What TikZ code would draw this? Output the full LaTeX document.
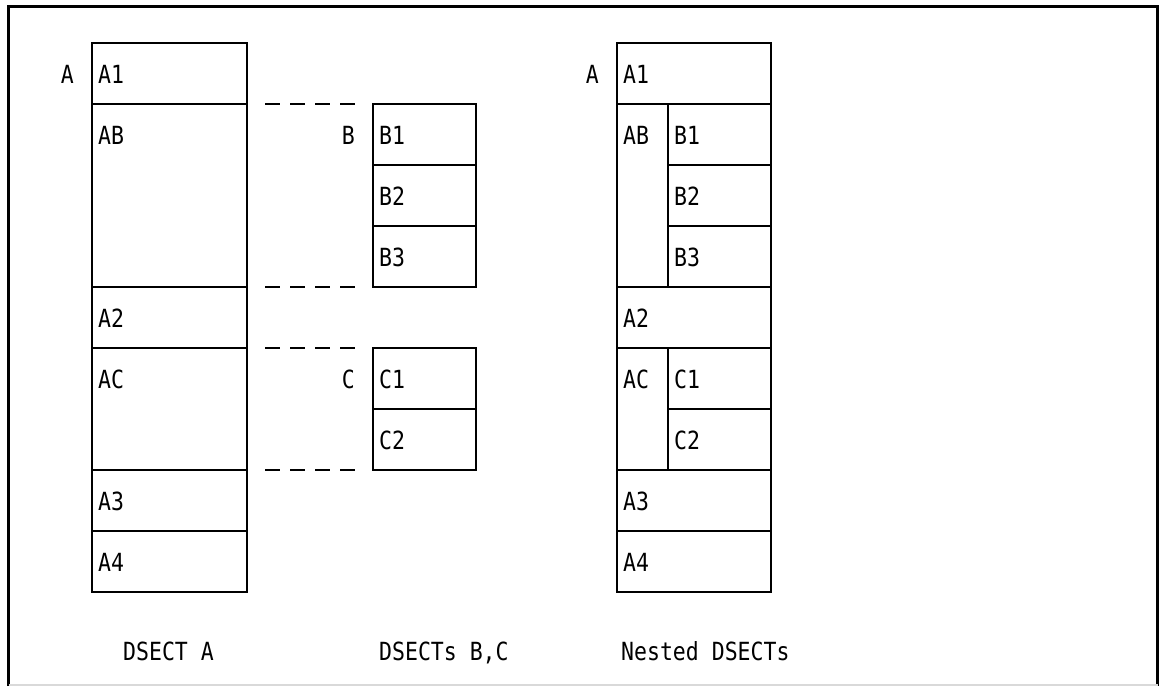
\documentclass[tikz,border=0pt]{standalone}
\usepackage{fontspec}
\setmonofont{DejaVu Sans Mono}[FakeStretch=0.86]
\usepackage{tikz}
\usetikzlibrary{positioning}

\tikzset{
  cell/.style={draw, line width=1.6pt, anchor=north west, inner sep=0pt,
    outer sep=0pt},
  celltext/.style={anchor=base west, inner sep=0pt,
    font=\ttfamily\fontsize{25}{30}\selectfont},
  dsname/.style={anchor=base east, inner sep=0pt,
    font=\ttfamily\fontsize{25}{30}\selectfont},
  caption/.style={anchor=base west, inner sep=0pt,
    font=\ttfamily\fontsize{25}{30}\selectfont},
  dashline/.style={line width=1.5pt, dash pattern=on 15pt off 10pt,
    shorten <=18pt, shorten >=18pt}
}

% one field of a DSECT: name, x, y, width, height, text
\newcommand{\dcell}[6]{%
  \node[cell, minimum width=#4pt, minimum height=#5pt] (#1) at (#2,#3) {};
  \node[celltext] (t#1) at ([xshift=6pt,yshift=-40.5pt]#1.north west) {#6};
}

\begin{document}
\begin{tikzpicture}[x=1pt, y=-1pt]
\useasboundingbox (0,0) rectangle (1159,686);

% Frame
\draw[line width=3pt] (8.5,686) -- (8.5,6.5) -- (1157.5,6.5) -- (1157.5,686);
\draw[gray!30, line width=1.5pt] (8.5,685) -- (1157.5,685);

% DSECT A
\dcell{lA1}{92}{43}{155}{61}{A1}
\dcell{lAB}{92}{104}{155}{183}{AB}
\dcell{lA2}{92}{287}{155}{61}{A2}
\dcell{lAC}{92}{348}{155}{122}{AC}
\dcell{lA3}{92}{470}{155}{61}{A3}
\dcell{lA4}{92}{531}{155}{61}{A4}
\node[dsname] (nA) at ([xshift=-18pt,yshift=-40.5pt]lA1.north west) {A};

% DSECTs B and C
\dcell{B1}{373}{104}{103}{61}{B1}
\dcell{B2}{373}{165}{103}{61}{B2}
\dcell{B3}{373}{226}{103}{61}{B3}
\node[dsname] (nB) at ([xshift=-18pt,yshift=-40.5pt]B1.north west) {B};

\dcell{C1}{373}{348}{103}{61}{C1}
\dcell{C2}{373}{409}{103}{61}{C2}
\node[dsname] (nC) at ([xshift=-18pt,yshift=-40.5pt]C1.north west) {C};

% Dashed links
\draw[dashline] (lAB.north east) -- (B1.north west);
\draw[dashline] (lAB.south east) -- (B3.south west);
\draw[dashline] (lAC.north east) -- (C1.north west);
\draw[dashline] (lAC.south east) -- (C2.south west);

% Nested DSECTs
\dcell{rA1}{617}{43}{154}{61}{A1}
\dcell{rAB}{617}{104}{51}{183}{AB}
\dcell{rB1}{668}{104}{103}{61}{B1}
\dcell{rB2}{668}{165}{103}{61}{B2}
\dcell{rB3}{668}{226}{103}{61}{B3}
\dcell{rA2}{617}{287}{154}{61}{A2}
\dcell{rAC}{617}{348}{51}{122}{AC}
\dcell{rC1}{668}{348}{103}{61}{C1}
\dcell{rC2}{668}{409}{103}{61}{C2}
\dcell{rA3}{617}{470}{154}{61}{A3}
\dcell{rA4}{617}{531}{154}{61}{A4}
\node[dsname] (nR) at ([xshift=-18pt,yshift=-40.5pt]rA1.north west) {A};

% Captions
\node[caption] (capA) at (123,660) {DSECT A};
\node[caption] (capBC) at (379,660) {DSECTs B,C};
\node[caption] (capN) at (621,660) {Nested DSECTs};
\end{tikzpicture}
\end{document}
